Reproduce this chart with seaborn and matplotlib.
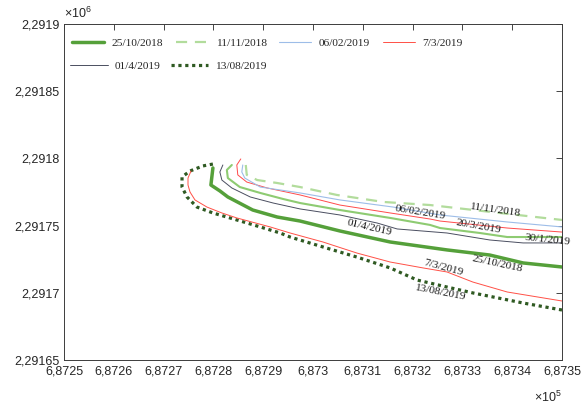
import matplotlib
matplotlib.use("Agg")
import matplotlib.pyplot as plt
import seaborn as sns
from matplotlib.ticker import FuncFormatter

sns.set_style("white")
plt.rcParams["font.family"] = ["Liberation Sans", "DejaVu Sans"]
plt.rcParams["mathtext.fontset"] = "custom"
plt.rcParams["mathtext.rm"] = "Liberation Sans"
plt.rcParams["mathtext.it"] = "Liberation Sans:italic"

SERIF = ["Liberation Serif", "DejaVu Serif"]

# Shoreline positions (UTM easting / northing, metres) per survey date
e_20181025 = [687279.9, 687279.5, 687281.3, 687282.9, 687287.9, 687292.8, 687297.4,
              687305.4, 687315.5, 687326.9, 687335.5, 687342.2, 687350.0]
n_20181025 = [2291792.9, 2291780.2, 2291775.8, 2291771.3, 2291761.6, 2291756.4, 2291753.4,
              2291746.0, 2291737.8, 2291731.9, 2291728.1, 2291722.2, 2291719.2]

e_20181111 = [687286.5, 687286.7, 687288.8, 687292.8, 687297.4, 687304.8, 687314.1,
              687323.5, 687337.5, 687350.0]
n_20181111 = [2291795.1, 2291787.7, 2291783.9, 2291781.7, 2291778.7, 2291772.8, 2291767.6,
              2291765.3, 2291759.4, 2291754.2]

e_20190130 = [687283.7, 687282.7, 687282.9, 687285.3, 687289.4, 687294.0, 687297.4,
              687305.4, 687315.5, 687323.5, 687325.5, 687333.5, 687339.0, 687350.0]
n_20190130 = [2291795.1, 2291791.4, 2291785.4, 2291778.7, 2291774.3, 2291769.8, 2291766.8,
              2291761.6, 2291755.7, 2291750.5, 2291748.2, 2291744.5, 2291741.5, 2291741.5]

e_20190206 = [687285.9, 687285.7, 687286.3, 687289.4, 687297.4, 687305.4, 687316.1,
              687325.5, 687339.0, 687350.0]
n_20190206 = [2291795.1, 2291789.9, 2291785.4, 2291778.7, 2291774.3, 2291769.1, 2291763.8,
              2291757.9, 2291752.7, 2291749.0]

e_20190307 = [687275.5, 687274.9, 687274.9, 687275.3, 687276.3, 687278.7, 687281.7,
              687284.7, 687291.4, 687295.4, 687302.0, 687308.8, 687315.5, 687322.1,
              687326.9, 687332.1, 687339.0, 687350.0]
n_20190307 = [2291790.6, 2291785.4, 2291780.2, 2291775.0, 2291769.1, 2291763.8, 2291759.4,
              2291755.7, 2291749.0, 2291744.5, 2291737.8, 2291729.6, 2291722.9, 2291718.5,
              2291715.5, 2291708.0, 2291700.6, 2291693.9]

e_20190320 = [687285.5, 687284.7, 687284.9, 687286.7, 687290.8, 687297.4, 687305.4,
              687315.5, 687323.5, 687325.5, 687339.0, 687350.0]
n_20190320 = [2291799.6, 2291795.1, 2291787.7, 2291782.4, 2291778.0, 2291772.8, 2291765.3,
              2291759.4, 2291754.9, 2291753.4, 2291748.2, 2291745.2]

e_20190401 = [687281.9, 687281.3, 687281.7, 687283.7, 687287.4, 687292.0, 687297.4,
              687305.4, 687312.9, 687316.9, 687326.9, 687335.5, 687342.2, 687350.0]
n_20190401 = [2291795.1, 2291789.9, 2291783.9, 2291778.0, 2291771.3, 2291766.8, 2291762.4,
              2291757.9, 2291751.9, 2291747.5, 2291744.5, 2291739.3, 2291737.1, 2291737.1]

e_20190813 = [687279.9, 687277.9, 687275.3, 687273.7, 687273.7, 687274.7, 687276.7,
              687279.9, 687284.7, 687289.4, 687293.4, 687295.4, 687302.0, 687308.8,
              687315.5, 687320.9, 687326.9, 687332.1, 687342.2, 687350.0]
n_20190813 = [2291795.8, 2291794.4, 2291790.6, 2291786.2, 2291778.7, 2291771.3, 2291763.8,
              2291759.4, 2291754.2, 2291749.0, 2291744.5, 2291741.5, 2291734.1, 2291726.6,
              2291718.5, 2291709.5, 2291704.3, 2291699.9, 2291692.4, 2291687.2]

# Date labels written along the shorelines: text, easting, northing, angle
curve_labels = ["11/11/2018", "06/02/2019", "20/3/2019", "30/1/2019",
                "01/4/2019", "25/10/2018", "7/3/2019", "13/08/2019"]
label_e = [687336.5, 687321.5, 687333.3, 687347.0, 687311.4, 687336.9, 687326.1, 687325.5]
label_n = [2291761.6, 2291759.4, 2291749.0, 2291739.3, 2291748.2, 2291721.4, 2291718.5, 2291700.6]
label_rot = [-8, -9, -10, -6, -13, -12, -15, -11]

x_ticks = [687250, 687260, 687270, 687280, 687290, 687300, 687310, 687320, 687330, 687340, 687350]
y_ticks = [2291650, 2291700, 2291750, 2291800, 2291850, 2291900]

fig = plt.figure(figsize=(5.85, 4.07), dpi=100)
ax = fig.add_axes([64 / 585, 1 - 360 / 407, 498 / 585, 336 / 407])

curves = [
    (e_20190813, n_20190813, "13/08/2019", dict(color="#2f5a22", linewidth=2.3, linestyle=(0, (1, 1.15)),
                                                dash_capstyle="butt")),
    (e_20190307, n_20190307, "7/3/2019", dict(color="#ff5046", linewidth=0.7)),
    (e_20181025, n_20181025, "25/10/2018", dict(color="#55a03a", linewidth=2.5)),
    (e_20190401, n_20190401, "01/4/2019", dict(color="#4a4e60", linewidth=0.7)),
    (e_20190130, n_20190130, "_30/1/2019", dict(color="#8ecb72", linewidth=1.5)),
    (e_20190320, n_20190320, "_20/3/2019", dict(color="#ff4a4a", linewidth=0.7)),
    (e_20190206, n_20190206, "06/02/2019", dict(color="#9dbde8", linewidth=0.8)),
    (e_20181111, n_20181111, "11/11/2018", dict(color="#b2dc9c", linewidth=1.6, linestyle=(0, (5, 3.5)))),
]

handles = {}
for e, n, lab, style in curves:
    sns.lineplot(x=e, y=n, sort=False, estimator=None, ax=ax, label=lab, legend=False, **style)
    handles[lab] = ax.get_lines()[-1]

for txt, le, ln, rot in zip(curve_labels, label_e, label_n, label_rot):
    ax.text(le, ln, txt, rotation=rot, rotation_mode="anchor", ha="center", va="center",
            fontsize=8.2, family=SERIF, color="#1a1a1a")

ax.set_xlim(x_ticks[0], x_ticks[-1])
ax.set_ylim(y_ticks[0], y_ticks[-1])
ax.set_xticks(x_ticks)
ax.set_yticks(y_ticks)
ax.xaxis.set_major_formatter(FuncFormatter(lambda v, p: ("%g" % round(v / 1e5, 6)).replace(".", ",")))
ax.yaxis.set_major_formatter(FuncFormatter(lambda v, p: ("%g" % round(v / 1e6, 7)).replace(".", ",")))
ax.tick_params(direction="in", length=4, width=0.6, top=True, right=True,
               labelsize=9, colors="#262626")
ax.tick_params(axis="x", pad=4)
ax.tick_params(axis="y", pad=3)
for s in ax.spines.values():
    s.set_color("#3c3c3c")
    s.set_linewidth(0.7)

ax.text(0.0, 1.008, r"$\times10^{6}$", transform=ax.transAxes, ha="left", va="bottom",
        fontsize=9, color="#262626")
ax.text(1.0, -0.112, r"$\times10^{5}$", transform=ax.transAxes, ha="right", va="center",
        fontsize=9, color="#262626")

row1 = ["25/10/2018", "11/11/2018", "06/02/2019", "7/3/2019"]
row2 = ["01/4/2019", "13/08/2019"]
leg1 = ax.legend([handles[k] for k in row1], row1, ncol=4, loc="upper left",
                 bbox_to_anchor=(0.016, 0.958), frameon=False, borderpad=0, borderaxespad=0,
                 handlelength=2.8, handletextpad=0.7, columnspacing=1.1,
                 prop={"family": SERIF, "size": 8.2})
ax.add_artist(leg1)
ax.legend([handles[k] for k in row2], row2, ncol=2, loc="upper left",
          bbox_to_anchor=(0.012, 0.890), frameon=False, borderpad=0, borderaxespad=0,
          handlelength=3.3, handletextpad=0.6, columnspacing=0.9,
          prop={"family": SERIF, "size": 8.2})

fig.savefig("out.png", dpi=100)
